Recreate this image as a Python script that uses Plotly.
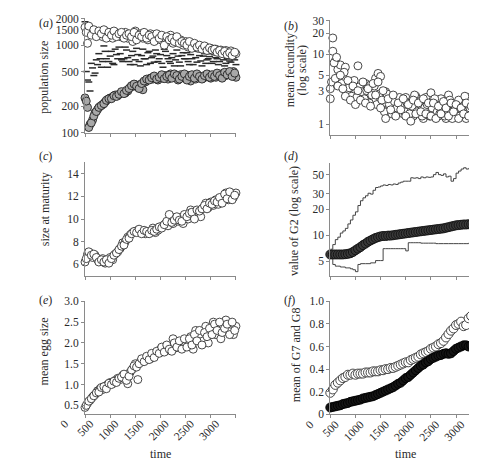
import plotly.graph_objects as go

time = [0, 50, 100, 150, 200, 250, 300, 350, 400, 450, 500, 550, 600, 650, 700, 750, 800, 850, 900, 950,
        1000, 1050, 1100, 1150, 1200, 1250, 1300, 1350, 1400, 1450, 1500, 1550, 1600, 1650, 1700, 1750,
        1800, 1850, 1900, 1950, 2000, 2050, 2100, 2150, 2200, 2250, 2300, 2350, 2400, 2450, 2500, 2550,
        2600, 2650, 2700, 2750, 2800, 2850, 2900, 2950, 3000]
time_mid = [25, 75, 125, 175, 225, 275, 325, 375, 425, 475, 525, 575, 625, 675, 725, 775, 825, 875, 925, 975,
            1025, 1075, 1125, 1175, 1225, 1275, 1325, 1375, 1425, 1475, 1525, 1575, 1625, 1675, 1725, 1775,
            1825, 1875, 1925, 1975, 2025, 2075, 2125, 2175, 2225, 2275, 2325, 2375, 2425, 2475, 2525, 2575,
            2625, 2675, 2725, 2775, 2825, 2875, 2925, 2975]

# (a) population size
pop_open = [1600, 1050, 1500, 1350, 1450, 1300, 1400, 1250, 1450, 1300, 1350, 1200, 1400, 1300, 1250, 1350,
            1400, 1200, 1300, 1100, 1450, 1250, 1350, 1200, 1300, 1150, 1350, 1250, 1200, 1300, 1150, 1250,
            1200, 1100, 1300, 1050, 1200, 1100, 1150, 1000, 1100, 950, 1050, 980, 1000, 920, 960, 900, 950,
            880, 920, 860, 900, 850, 880, 820, 870, 800, 860, 780, 800]
pop_open_mid = [1400, 1650, 1300, 1500, 1250, 1450, 1350, 1500, 1200, 1400,
                1300, 1450, 1250, 1350, 1400, 1200, 1300, 1350, 1250, 1400,
                1150, 1300, 1250, 1400, 1200, 1300, 1250, 1100, 1350, 1200,
                1300, 1000, 1250, 1150, 1200, 1100, 1250, 1050, 1100, 1050,
                1000, 1100, 920, 1050, 950, 1000, 900, 980, 870, 930,
                880, 900, 830, 870, 800, 850, 780, 820, 760, 830]
pop_grey = [250, 195, 125, 140, 170, 185, 200, 210, 225, 240, 250, 255, 270, 265, 280, 290, 285, 300, 330,
            340, 355, 330, 350, 310, 380, 400, 420, 410, 430, 400, 440, 420, 450, 410, 470, 430, 440, 400,
            460, 430, 420, 450, 390, 430, 410, 450, 430, 420, 440, 460, 420, 450, 430, 470, 440, 480, 450,
            490, 470, 500, 430]
pop_grey_mid = [230, 115, 130, 155, 175, 195, 205, 215, 235, 245,
                245, 265, 260, 275, 295, 280, 305, 320, 345, 360,
                340, 320, 365, 390, 410, 400, 425, 445, 410, 430,
                460, 415, 440, 455, 420, 470, 450, 410, 440, 470,
                400, 440, 460, 420, 470, 440, 410, 450, 470, 430,
                460, 440, 480, 450, 420, 490, 460, 500, 440, 480]
pop_dash = [1850, 400, 300, 550, 480, 600, 700, 650, 850, 560, 750, 620, 900, 700, 800, 650, 950, 720, 600,
            850, 680, 780, 580, 900, 700, 820, 620, 750, 880, 650, 780, 560, 850, 700, 620, 800, 680, 750,
            580, 820, 700, 650, 780, 600, 720, 850, 660, 750, 620, 700, 800, 650, 720, 600, 760, 680, 620,
            700, 640, 720, 600]
pop_dash_mid = [500, 380, 620, 450, 680, 800, 560, 980, 700, 650,
                850, 600, 780, 950, 680, 700, 880, 650, 760, 600,
                920, 650, 760, 700, 600, 850, 720, 640, 800, 700,
                620, 900, 760, 650, 720, 580, 880, 640, 760, 700,
                820, 600, 700, 900, 640, 760, 580, 800, 680, 740,
                620, 780, 700, 650, 820, 580, 700, 660, 740, 680]

# (b) mean fecundity
fec_1 = [3.2, 11, 8, 6, 7, 4.5, 6.5, 3.5, 3.0, 4.0, 2.8, 6.8, 3.2, 2.5, 3.8, 2.6, 3.6, 2.2, 4.5, 5.3, 4.8,
         2.0, 2.9, 1.6, 2.5, 1.8, 2.2, 1.5, 2.0, 1.4, 2.4, 1.7, 2.1, 1.3, 2.5, 1.6, 1.9, 1.2, 2.4, 1.6, 2.8,
         1.5, 1.9, 1.3, 2.3, 1.6, 1.2, 2.6, 1.5, 1.9, 1.3, 2.2, 1.5, 1.8, 1.2, 2.4, 1.6, 1.3, 2.1, 1.5, 1.2]
fec_2 = [2.3, 17, 4.5, 3.5, 5, 3.2, 2.5, 4.2, 2.2, 3.5, 1.9, 3.0, 2.2, 4.0, 2.0, 3.2, 1.8, 3.8, 2.6, 4.0,
         1.7, 3.0, 1.2, 2.3, 1.6, 2.6, 1.3, 2.0, 1.6, 2.3, 1.3, 1.9, 1.1, 2.2, 1.4, 2.0, 1.5, 2.3, 1.4, 2.0,
         1.3, 2.0, 1.2, 1.8, 1.4, 2.1, 1.7, 1.3, 2.0, 1.5, 1.9, 1.2, 1.7, 1.4, 2.0, 1.3, 1.8, 2.1, 1.4, 1.7,
         1.6]
fec_mid = [4.0, 7.5, 9.0, 4.8, 3.8, 5.5, 2.9, 3.3, 2.5, 4.2,
           2.4, 3.4, 2.9, 2.3, 3.0, 2.0, 2.6, 3.5, 1.9, 2.7,
           2.2, 1.5, 2.7, 1.9, 1.4, 2.1, 1.7, 2.4, 1.8, 1.5,
           2.0, 1.4, 1.8, 2.6, 1.5, 2.1, 1.3, 1.7, 1.9, 1.3,
           1.7, 2.3, 1.5, 1.4, 1.9, 1.3, 1.6, 2.2, 1.2, 1.6,
           1.8, 1.3, 1.6, 2.5, 1.4, 1.7, 1.4, 1.9, 1.3, 1.5]

# (c) size at maturity
maturity = [6.2, 6.9, 7.0, 6.6, 6.8, 6.4, 6.3, 6.5, 6.1, 6.3, 6.6, 6.4, 6.9, 7.1, 7.4, 7.9, 8.0, 8.4, 8.6,
            8.8, 8.9, 9.0, 8.8, 8.9, 8.7, 8.9, 8.8, 9.2, 8.8, 9.0, 9.3, 9.4, 9.6, 9.4, 10.2, 9.6, 10.0, 9.8,
            10.1, 9.6, 10.3, 10.0, 10.8, 10.3, 10.4, 10.6, 10.2, 11.0, 11.4, 11.0, 11.5, 11.2, 11.7, 11.3,
            11.6, 11.9, 12.3, 11.7, 12.1, 11.9, 12.3]
maturity_mid = [6.5, 7.1, 6.8, 6.9, 6.6, 6.2, 6.4, 6.2, 6.4, 6.1,
                6.5, 6.8, 7.0, 7.3, 7.6, 7.7, 8.2, 8.3, 8.7, 8.9,
                8.8, 9.1, 8.7, 9.0, 8.9, 8.7, 9.0, 8.9, 9.1, 9.3,
                9.2, 9.5, 9.8, 10.4, 9.7, 9.9, 10.2, 9.9, 9.8, 10.4,
                10.2, 10.5, 10.6, 10.0, 10.8, 10.7, 10.9, 11.2, 10.9, 11.4,
                11.3, 11.6, 11.5, 11.9, 11.4, 12.2, 11.8, 12.4, 11.7, 12.1]

# (d) value of G2
g2_mean = [6.0, 6.0, 6.0, 6.0, 6.0, 6.0, 6.05, 6.1, 6.2, 6.4, 6.7, 7.0, 7.3, 7.7, 8.0, 8.4, 8.7, 9.0, 9.3,
           9.5, 9.7, 9.8, 9.8, 9.9, 9.9, 10.0, 10.1, 10.2, 10.3, 10.4, 10.5, 10.6, 10.7, 10.8, 10.9, 11.0,
           11.1, 11.2, 11.3, 11.4, 11.5, 11.6, 11.7, 11.8, 11.9, 12.0, 12.2, 12.4, 12.6, 12.8, 13.0, 13.1,
           13.2, 13.3, 13.3, 13.4, 13.4, 13.4, 13.3, 13.4, 13.5]
g2_max = [6.9, 7.8, 8.9, 9.5, 10.6, 11.2, 12.0, 13.5, 15.0, 17.0, 18.6, 22.0, 25.0, 27.0, 28.5, 30.5, 29.8,
          33.0, 35.5, 36.0, 37.0, 38.0, 37.5, 38.5, 38.0, 39.0, 38.5, 40.0, 41.0, 42.0, 42.0, 42.0, 46.0,
          45.5, 46.0, 45.0, 47.0, 46.0, 47.0, 46.5, 47.0, 50.0, 53.0, 50.0, 49.0, 51.0, 47.0, 48.0, 42.0,
          45.0, 52.0, 55.0, 58.0, 60.0, 58.0, 59.0, 57.0, 60.0, 59.0, 57.0, 55.0]
g2_min = [6.0, 4.6, 4.4, 4.4, 4.3, 4.3, 4.2, 4.2, 4.1, 4.0, 3.8, 4.6, 4.7, 4.7, 4.7, 4.7, 4.8, 4.8, 5.1, 5.1,
          5.1, 7.0, 7.0, 7.0, 7.0, 7.0, 7.0, 7.0, 7.0, 7.0, 6.6, 8.2, 8.2, 8.2, 8.2, 8.2, 8.1, 8.1, 8.1, 8.1,
          8.1, 8.1, 8.0, 8.0, 8.0, 8.0, 8.0, 8.0, 8.0, 8.0, 8.0, 8.0, 8.0, 8.0, 8.0, 8.1, 8.1, 8.5, 8.4, 8.5,
          8.4]

# (e) mean egg size
egg = [0.45, 0.55, 0.62, 0.7, 0.76, 0.85, 0.9, 0.88, 0.96, 1.0, 1.05, 1.02, 1.1, 1.15, 1.12, 1.22, 1.18,
       1.02, 1.3, 1.38, 1.5, 1.12, 1.55, 1.58, 1.6, 1.65, 1.62, 1.7, 1.72, 1.78, 1.85, 1.8, 1.85, 1.9, 1.82,
       2.1, 1.88, 1.95, 1.9, 2.05, 1.95, 2.0, 2.15, 1.85, 2.3, 2.1, 2.2, 2.05, 2.4, 2.0, 2.3, 2.5, 2.2, 2.35,
       2.1, 2.4, 2.55, 2.3, 2.45, 2.2, 2.4]
egg_mid = [0.5, 0.6, 0.66, 0.73, 0.8, 0.82, 0.93, 0.95, 0.9, 1.03,
           1.0, 1.08, 1.05, 1.15, 1.18, 1.25, 1.1, 1.2, 1.35, 1.45,
           1.42, 1.5, 1.62, 1.55, 1.68, 1.6, 1.75, 1.65, 1.8, 1.75,
           1.9, 1.78, 1.95, 1.85, 1.8, 2.0, 1.9, 2.05, 1.85, 2.1,
           1.9, 2.1, 1.95, 2.2, 2.05, 2.3, 1.95, 2.25, 2.15, 2.35,
           2.2, 2.45, 2.3, 2.5, 2.25, 2.35, 2.45, 2.2, 2.5, 2.3]

# (f) mean of G7 and G8
g78_open = [0.19, 0.22, 0.26, 0.28, 0.3, 0.32, 0.33, 0.35, 0.35, 0.36, 0.35, 0.36, 0.36, 0.36, 0.37, 0.37,
            0.37, 0.38, 0.38, 0.38, 0.39, 0.39, 0.40, 0.40, 0.41, 0.41, 0.42, 0.43, 0.44, 0.45, 0.46, 0.46,
            0.48, 0.49, 0.50, 0.51, 0.53, 0.54, 0.55, 0.56, 0.58, 0.59, 0.60, 0.62, 0.63, 0.65, 0.68, 0.71,
            0.74, 0.76, 0.79, 0.80, 0.82, 0.78, 0.79, 0.85, 0.87, 0.84, 0.82, 0.83, 0.80]
g78_fill = [0.06, 0.065, 0.07, 0.075, 0.08, 0.09, 0.095, 0.10, 0.11, 0.115, 0.12, 0.125, 0.13, 0.14, 0.145,
            0.15, 0.155, 0.16, 0.17, 0.18, 0.19, 0.20, 0.21, 0.22, 0.23, 0.24, 0.255, 0.27, 0.28, 0.30,
            0.32, 0.33, 0.35, 0.37, 0.39, 0.41, 0.43, 0.44, 0.46, 0.47, 0.49, 0.50, 0.51, 0.52, 0.525,
            0.535, 0.54, 0.535, 0.54, 0.56, 0.58, 0.59, 0.60, 0.61, 0.61, 0.60, 0.61, 0.59, 0.60, 0.62, 0.64]

x_ticks = [0, 500, 1000, 1500, 2000, 2500, 3000]

W, H = 477, 460
FONT = "Liberation Serif, Times New Roman, Times, serif"
AX = "#8a8a8a"
INK = "#2a2a2a"


def px_x(p):
    return p / W


def px_y(p):
    return 1 - p / H


fig = go.Figure()


def scatter(ax, x, y, fill, line, size=8, symbol="circle", lw=0.9):
    fig.add_trace(go.Scatter(
        x=x, y=y, mode="markers", xaxis="x" + ax, yaxis="y" + ax, cliponaxis=False,
        marker=dict(symbol=symbol, size=size, color=fill, line=dict(color=line, width=lw)),
        hoverinfo="skip"))


# (a)
scatter("", time, pop_dash, INK, INK, size=5, symbol="line-ew", lw=1.5)
scatter("", time_mid, pop_dash_mid, INK, INK, size=5, symbol="line-ew", lw=1.5)
scatter("", time, pop_open, "white", "#333")
scatter("", time_mid, pop_open_mid, "white", "#333")
scatter("", time, pop_grey, "#a8a8a8", "#222")
scatter("", time_mid, pop_grey_mid, "#a8a8a8", "#222")
# (b)
scatter("2", time, fec_1, "white", "#333")
scatter("2", time_mid, fec_mid, "white", "#333")
scatter("2", time, fec_2, "white", "#333")
# (c)
scatter("3", time, maturity, "white", "#333")
scatter("3", time_mid, maturity_mid, "white", "#333")
# (d)
for arr in (g2_max, g2_min):
    fig.add_trace(go.Scatter(x=time, y=arr, mode="lines", xaxis="x4", yaxis="y4",
                             line=dict(color="#444", width=1, shape="hv"), hoverinfo="skip"))
scatter("4", time, g2_mean, "#3a3a3a", "#111", size=9)
fig.add_trace(go.Scatter(x=[time[-1]], y=[g2_mean[-1]], mode="markers", xaxis="x4", yaxis="y4",
                         cliponaxis=False, marker=dict(size=9, color="#b0b0b0", line=dict(color="#444", width=1)),
                         hoverinfo="skip"))
# (e)
scatter("5", time, egg, "white", "#333")
scatter("5", time_mid, egg_mid, "white", "#333")
# (f)
scatter("6", time, g78_open, "white", "#333", size=9)
scatter("6", time, g78_fill, "#151515", "#000", size=9)

base = dict(showline=True, linecolor=AX, linewidth=1, ticks="outside", ticklen=3, tickcolor=AX,
            showgrid=False, zeroline=False, tickfont=dict(family=FONT, size=11.5, color=INK))

xl = [px_x(53), px_x(213)]
xr = [px_x(313), px_x(473)]

layout = dict(width=W, height=H, margin=dict(l=0, r=0, t=0, b=0), paper_bgcolor="white",
              plot_bgcolor="white", showlegend=False, font=dict(family=FONT, color=INK))

panels = [
    ("", xl, (4, 122), dict(type="log", range=[2, 3.311], tickvals=[100, 200, 500, 1000, 1500, 2000])),
    ("2", xr, (6, 124), dict(type="log", range=[-0.153, 1.49], tickvals=[1, 3, 5, 10, 20, 30])),
    ("3", xl, (152.4, 268.6), dict(range=[5, 15], tickvals=[6, 8, 10, 12, 14])),
    ("4", xr, (153, 269), dict(type="log", range=[0.530, 1.833], tickvals=[5, 10, 20, 30, 50])),
    ("5", xl, (295, 410.4), dict(range=[0.3, 3.0], tickvals=[0.5, 1.0, 1.5, 2.0, 2.5, 3.0],
                                ticktext=["0.5", "1.0", "1.5", "2.0", "2.5", "3.0"])),
    ("6", xr, (295, 411), dict(range=[0, 1], tickvals=[0, 0.2, 0.4, 0.6, 0.8, 1.0],
                              ticktext=["0", "0.2", "0.4", "0.6", "0.8", "1.0"])),
]

for key, xd, (top, bot), yopts in panels:
    bottom_row = key in ("5", "6")
    xa = dict(base, domain=xd, range=[0, 3000], tickvals=x_ticks, anchor="y" + key,
              showticklabels=bottom_row, tickangle=-45, ticklabelshift=-20, ticklabelstandoff=-5)
    ya = dict(base, domain=[px_y(bot), px_y(top)], anchor="x" + key)
    ya.update(yopts)
    layout["xaxis" + key] = xa
    layout["yaxis" + key] = ya

fig.update_layout(**layout)

ann = []


def text(x, y, s, angle=0, size=12, xa="center"):
    ann.append(dict(x=px_x(x), y=px_y(y), xref="paper", yref="paper", text=s, showarrow=False,
                    textangle=angle, xanchor=xa, yanchor="middle", borderpad=0,
                    font=dict(family=FONT, size=size, color=INK)))


# panel letters
text(3, 9, "(<i>a</i>)", xa="left")
text(263, 12, "(<i>b</i>)", xa="left")
text(3, 146, "(<i>c</i>)", xa="left")
text(263, 146, "(<i>d</i>)", xa="left")
text(3, 294, "(<i>e</i>)", xa="left")
text(263, 294, "(<i>f</i>)", xa="left")

# axis titles
text(10, 65, "population size", angle=-90)
text(271, 58, "mean fecundity", angle=-90)
text(284, 58, "(log scale)", angle=-90)
text(10, 200, "size at maturity", angle=-90)
text(275, 212, "value of G2 (log scale)", angle=-90)
text(10, 346, "mean egg size", angle=-90)
text(277, 350, "mean of G7 and G8", angle=-90)
text(133, 452, "time")
text(393, 452, "time")

fig.update_layout(annotations=ann)
fig.write_html("out.html")
